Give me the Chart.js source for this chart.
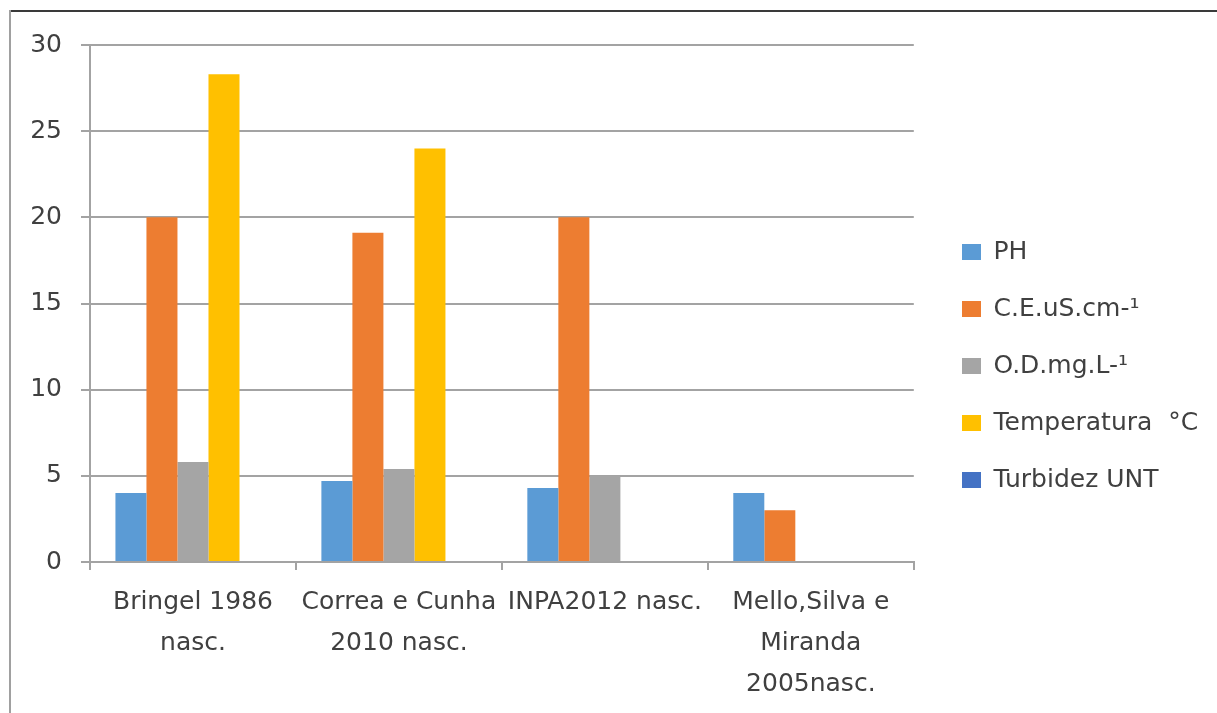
<!DOCTYPE html>
<html>
<head>
<meta charset="utf-8">
<script src="https://cdn.jsdelivr.net/npm/chart.js@4/dist/chart.umd.min.js"></script>
<style>
  html, body { margin: 0; padding: 0; background: #ffffff; }
  #wrap { position: relative; width: 1217px; height: 713px; overflow: hidden; }
  #frameTop { position: absolute; left: 9px; top: 10px; width: 1208px; height: 2px; background: #3a3a3a; }
  #frameLeft { position: absolute; left: 9px; top: 10px; width: 2px; height: 703px; background: #a0a0a0; }
</style>
</head>
<body>
<div id="wrap">
  <canvas id="c" width="1217" height="713"></canvas>
  <div id="frameTop"></div>
  <div id="frameLeft"></div>
</div>
<script>
const categories = [
  ["Bringel 1986", "nasc."],
  ["Correa e Cunha", "2010 nasc."],
  ["INPA2012 nasc."],
  ["Mello,Silva e", "Miranda", "2005nasc."]
];
const seriesNames = ["PH", "C.E.uS.cm-\u00B9", "O.D.mg.L-\u00B9", "Temperatura  \u00B0C", "Turbidez UNT"];
const phValues = [4.0, 4.7, 4.3, 4.0];
const ceValues = [20.0, 19.1, 20.0, 3.0];
const odValues = [5.8, 5.4, 5.0, null];
const tempValues = [28.3, 24.0, null, null];
const turbValues = [null, null, null, null];
const seriesColors = ["#5B9BD5", "#ED7D31", "#A5A5A5", "#FFC000", "#4472C4"];
const yTicks = [0, 5, 10, 15, 20, 25, 30];

const allValues = [phValues, ceValues, odValues, tempValues, turbValues];
const datasets = allValues.map((vals, i) => ({
  label: seriesNames[i],
  data: vals,
  backgroundColor: seriesColors[i],
  borderWidth: 0,
  categoryPercentage: 0.753,
  barPercentage: 1.0
}));

const textColor = "#404040";
const gridColor = "#a3a3a3";

const legendShift = {
  id: 'legendShift',
  afterLayout(chart) {
    const lg = chart.legend;
    if (!lg) return;
    const pad = chart.options.plugins.legend.labels.padding;
    const shiftX = 962 - (lg.left + pad);
    lg.left += shiftX;
    lg.right += shiftX;
    const shiftY = -13;
    lg.top += shiftY;
    lg.bottom += shiftY;
  }
};

new Chart(document.getElementById('c'), {
  type: 'bar',
  data: { labels: categories, datasets },
  plugins: [legendShift],
  options: {
    responsive: false,
    animation: false,
    devicePixelRatio: 1,
    layout: { padding: { top: 45, bottom: 0, left: 0, right: 25 } },
    plugins: {
      legend: {
        position: 'right',
        labels: {
          boxWidth: 19,
          boxHeight: 16,
          padding: 32,
          color: textColor,
          font: { family: "DejaVu Sans", size: 25 }
        }
      },
      tooltip: { enabled: false }
    },
    scales: {
      x: {
        offset: true,
        grid: {
          offset: true,
          drawOnChartArea: false,
          drawTicks: true,
          tickLength: 8,
          color: gridColor,
          lineWidth: 2
        },
        border: { color: gridColor, width: 2 },
        ticks: {
          color: textColor,
          font: { family: "DejaVu Sans", size: 25, lineHeight: 1.64 },
          padding: 12,
          maxRotation: 0,
          minRotation: 0,
          autoSkip: false
        },
        afterFit(scale) { scale.height = 151; }
      },
      y: {
        min: 0,
        max: 30,
        afterBuildTicks(scale) { scale.ticks = yTicks.map(v => ({ value: v })); },
        grid: {
          color: gridColor,
          lineWidth: 2,
          drawTicks: true,
          tickLength: 9
        },
        border: { color: gridColor, width: 2 },
        ticks: {
          color: textColor,
          font: { family: "DejaVu Sans", size: 25 },
          padding: 19
        },
        afterFit(scale) { scale.width = 90; }
      }
    }
  }
});
</script>
</body>
</html>
